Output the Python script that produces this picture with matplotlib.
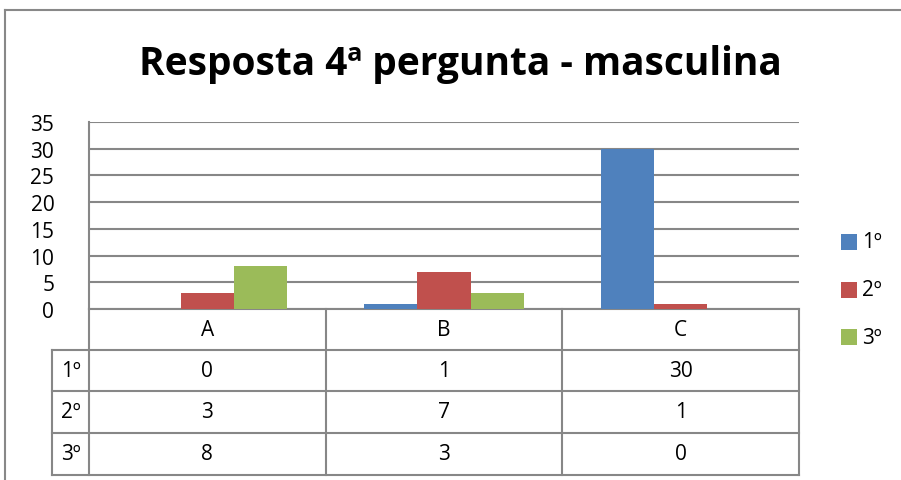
import matplotlib.pyplot as plt
import matplotlib.transforms as mtransforms
from matplotlib.lines import Line2D

categories = ["A", "B", "C"]
series_names = ["1º", "2º", "3º"]
first = [0, 1, 30]
second = [3, 7, 1]
third = [8, 3, 0]
colors = ["#4F81BD", "#C0504D", "#9BBB59"]
yticks = [0, 5, 10, 15, 20, 25, 30, 35]

plt.rcParams['font.family'] = ['Open Sans', 'DejaVu Sans']

W, H = 901, 481
fig = plt.figure(figsize=(W / 100, H / 100), dpi=100)

def fx(px):
    return px / W

def fy(py):
    return 1 - py / H

# plot area in pixels
left, right, top, bottom = 89, 799, 123, 310
ax = fig.add_axes([fx(left), fy(bottom), fx(right - left), (bottom - top) / H])

grid_col = "#878787"
fs = 15
values = [first, second, third]
bw = 0.225
for i, vals in enumerate(values):
    xs = [j + 0.5 + (i - 1) * bw for j in range(len(categories))]
    ax.bar(xs, vals, width=bw, color=colors[i], edgecolor="none", zorder=3)

ax.set_xlim(0, len(categories))
ax.set_ylim(0, 35)
ax.set_yticks(yticks)
ax.set_yticklabels([str(t) for t in yticks], fontsize=fs)
ax.set_xticks([])
ax.tick_params(axis="y", length=0, pad=25)
ax.yaxis.grid(True, color=grid_col, linewidth=1.5, zorder=0)
for s in ["top", "right"]:
    ax.spines[s].set_visible(False)
ax.spines["left"].set_color(grid_col)
ax.spines["left"].set_linewidth(1.5)
ax.spines["bottom"].set_color(grid_col)
ax.spines["bottom"].set_linewidth(1.5)

# data table below the plot
trans = mtransforms.blended_transform_factory(ax.transData, fig.transFigure)
row_edges = [310, 351, 392, 434, 476]
label_left = -(left - 52) / ((right - left) / len(categories))
ncat = len(categories)

def hline(x0, x1, py):
    fig.add_artist(Line2D([x0, x1], [fy(py), fy(py)], transform=trans,
                          color=grid_col, linewidth=1.5))

def vline(x, py0, py1):
    fig.add_artist(Line2D([x, x], [fy(py0), fy(py1)], transform=trans,
                          color=grid_col, linewidth=1.5))

for py in row_edges[1:]:
    hline(label_left, ncat, py)
vline(label_left, row_edges[1], row_edges[-1])
vline(0, row_edges[0], row_edges[-1])
for j in range(1, ncat + 1):
    vline(j, row_edges[0], row_edges[-1])

def row_mid(r):
    return fy((row_edges[r] + row_edges[r + 1]) / 2)

for j, c in enumerate(categories):
    fig.text(j + 0.5, row_mid(0), c, transform=trans, ha="center",
             va="center", fontsize=fs)
for i, vals in enumerate(values):
    fig.text(label_left / 2, row_mid(i + 1), series_names[i], transform=trans,
             ha="center", va="center", fontsize=fs)
    for j, v in enumerate(vals):
        fig.text(j + 0.5, row_mid(i + 1), str(v), transform=trans,
                 ha="center", va="center", fontsize=fs)

# legend
leg_y = [243, 291, 338]
for i, name in enumerate(series_names):
    fig.patches.append(plt.Rectangle((fx(841), fy(leg_y[i] + 8)), fx(16), 16 / H,
                                     transform=fig.transFigure,
                                     facecolor=colors[i], edgecolor="none"))
    fig.text(fx(862), fy(leg_y[i]), name, ha="left", va="center", fontsize=fs)

# title
fig.text(fx(460), fy(64), "Resposta 4ª pergunta - masculina", ha="center",
         va="center", fontsize=28, fontweight="bold")

# chart frame (cropped on the right and bottom)
fig.add_artist(Line2D([fx(5), fx(5)], [fy(11), 0], transform=fig.transFigure,
                      color="#888888", linewidth=1.5))
fig.add_artist(Line2D([fx(5), 1], [fy(11), fy(11)], transform=fig.transFigure,
                      color="#888888", linewidth=1.5))

fig.savefig("out.png", dpi=100)
